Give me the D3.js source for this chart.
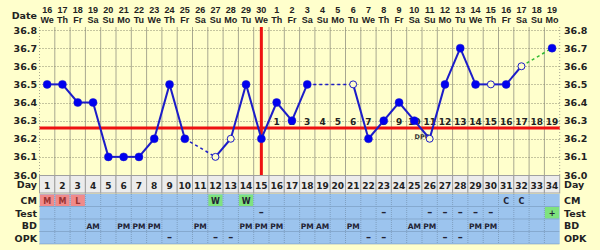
<!DOCTYPE html>
<html><head><meta charset="utf-8">
<script src="https://cdn.jsdelivr.net/npm/d3@7"></script>
<style>
html,body{margin:0;padding:0;background:#ffffcc;}
svg{display:block;}
</style></head><body>
<svg id="c" width="600" height="250"></svg>
<script>
const days = d3.range(1, 35);
const dates = [16,17,18,19,20,21,22,23,24,25,26,27,28,29,30,1,2,3,4,5,6,7,8,9,10,11,12,13,14,15,16,17,18,19];
const weekdays = ["We","Th","Fr","Sa","Su","Mo","Tu","We","Th","Fr","Sa","Su","Mo","Tu","We","Th","Fr","Sa","Su","Mo","Tu","We","Th","Fr","Sa","Su","Mo","Tu","We","Th","Fr","Sa","Su","Mo"];
const temps = [36.5,36.5,36.4,36.4,36.1,36.1,36.1,36.2,36.5,36.2,null,36.1,36.2,36.5,36.2,36.4,36.3,36.5,null,null,36.5,36.2,36.3,36.4,36.3,36.2,36.5,36.7,36.5,36.5,36.5,36.6,null,36.7];
const openDays = [12,13,21,26,30,32];
const greenGapEnd = 34;
const yTicks = [36.0,36.1,36.2,36.3,36.4,36.5,36.6,36.7,36.8];
const coverline = 36.26;
const ovulationDay = 15;
const dpoLabels = d3.range(1, 20).map(String);
const rowNames = ["CM","Test","BD","OPK"];
const cmRow = {1:"M",2:"M",3:"L",12:"W",14:"W",31:"C",32:"C"};
const cmFill = {1:"pink",2:"pink",3:"pink",12:"green",14:"green"};
const testRow = {15:"–",23:"–",26:"–",27:"–",28:"–",29:"–",30:"–",34:"+"};
const testFill = {34:"green"};
const bdRow = {4:"AM",6:"PM",7:"PM",8:"PM",11:"PM",14:"PM",15:"PM",16:"PM",18:"PM",19:"AM",21:"PM",25:"AM",26:"PM",29:"PM",30:"PM"};
const opkRow = {9:"–",12:"–",13:"–",22:"–",23:"–",27:"–",28:"–"};

const svg = d3.select("#c");
const L = 39.5, R = 559.7, T = 30, B = 175;
const x = d3.scaleLinear().domain([0.5, 34.5]).range([L, R]);
const cw = x(2) - x(1);
const y = d3.scaleLinear().domain([36.0, 36.8]).range([B, T]);
const side = "DejaVu Sans";
const small = "Liberation Sans";
const ink = "#222";

// header
svg.append("text").attr("x", 37).attr("y", 19).attr("text-anchor","end")
  .attr("font-family", side).attr("font-weight","bold").attr("font-size", 9.5).attr("fill", ink).text("Date");
svg.append("g").selectAll("text").data(days).join("text")
  .attr("x", d => x(d)).attr("y", 13).attr("text-anchor","middle")
  .attr("font-family", small).attr("font-weight","bold").attr("font-size", 9).attr("fill", ink)
  .text((d,i) => dates[i]);
svg.append("g").selectAll("text").data(days).join("text")
  .attr("x", d => x(d)).attr("y", 23).attr("text-anchor","middle")
  .attr("font-family", small).attr("font-weight","bold").attr("font-size", 9).attr("fill", ink)
  .text((d,i) => weekdays[i]);

// grid
const g = svg.append("g");
g.selectAll("line.v").data(d3.range(0, 35)).join("line")
  .attr("x1", d => x(d + 0.5)).attr("x2", d => x(d + 0.5))
  .attr("y1", 27).attr("y2", B)
  .attr("stroke", "#a8a890").attr("stroke-width", 1)
  .attr("stroke-dasharray", d => (d === 0 || d === 34) ? "1,2" : null);
g.selectAll("line.h").data(yTicks.slice(1)).join("line")
  .attr("x1", L).attr("x2", R).attr("y1", d => Math.round(y(d)) + 0.5).attr("y2", d => Math.round(y(d)) + 0.5)
  .attr("stroke", "#8a8a70").attr("stroke-width", 1).attr("stroke-dasharray", "1,2");

// y labels both sides
const axL = d3.axisLeft(y).tickValues(yTicks).tickFormat(d3.format(".1f")).tickSize(0).tickPadding(0);
const axR = d3.axisRight(y).tickValues(yTicks).tickFormat(d3.format(".1f")).tickSize(0).tickPadding(0);
[[axL, 37], [axR, 564]].forEach(([ax, px]) => {
  const a = svg.append("g").attr("transform", `translate(${px},0)`).call(ax);
  a.select(".domain").remove();
  a.selectAll("text").attr("font-family", side).attr("font-weight","bold").attr("font-size", 9.5).attr("fill", ink);
});

// coverline & ovulation
svg.append("line").attr("x1", L).attr("x2", R).attr("y1", y(coverline)).attr("y2", y(coverline))
  .attr("stroke", "#ee1111").attr("stroke-width", 3);
svg.append("line").attr("x1", x(ovulationDay)).attr("x2", x(ovulationDay)).attr("y1", 27).attr("y2", B)
  .attr("stroke", "#ee1111").attr("stroke-width", 3);

// DPO labels
svg.append("g").selectAll("text").data(dpoLabels).join("text")
  .attr("x", (d,i) => x(ovulationDay + 1 + i)).attr("y", 125).attr("text-anchor","middle")
  .attr("font-family", side).attr("font-weight","bold").attr("font-size", 9).attr("fill", ink).text(d => d);
svg.append("text").attr("x", x(25) + 8).attr("y", 139).attr("text-anchor","middle")
  .attr("font-family", side).attr("font-weight","bold").attr("font-size", 6.5).attr("fill", "#333").text("DPO");

// temperature lines
const pts = days.map((d,i) => ({day: d, t: temps[i]}));
const valid = pts.filter(p => p.t !== null);
for (let k = 0; k < valid.length - 1; k++) {
  const a = valid[k], b = valid[k+1];
  const gap = b.day - a.day > 1;
  const green = gap && b.day === greenGapEnd;
  svg.append("line")
    .attr("x1", x(a.day)).attr("y1", y(a.t)).attr("x2", x(b.day)).attr("y2", y(b.t))
    .attr("stroke", green ? "#33bb33" : "#1c1cc8")
    .attr("stroke-width", gap ? 1.5 : 2)
    .attr("stroke-dasharray", gap ? "3,3" : null);
}
svg.append("g").selectAll("circle").data(valid).join("circle")
  .attr("cx", d => x(d.day)).attr("cy", d => y(d.t)).attr("r", d => openDays.includes(d.day) ? 3.5 : 4)
  .attr("fill", d => openDays.includes(d.day) ? "#ffffcc" : "#0000ee")
  .attr("stroke", "#1c1cc8").attr("stroke-width", d => openDays.includes(d.day) ? 1 : 0.5);

// Day row
const dayTop = 175.5, dayH = 17.5;
svg.append("g").selectAll("rect").data(days).join("rect")
  .attr("x", d => x(d - 0.5)).attr("y", dayTop).attr("width", cw).attr("height", dayH)
  .attr("fill", "#ececec").attr("stroke", "#a0a0a0").attr("stroke-width", 1);
svg.append("g").selectAll("text").data(days).join("text")
  .attr("x", d => x(d)).attr("y", dayTop + 13).attr("text-anchor","middle")
  .attr("font-family", side).attr("font-weight","bold").attr("font-size", 9).attr("fill", ink).text(d => d);

// info rows
const rowTop = 194, rowH = 12.5;
const rows = [cmRow, testRow, bdRow, opkRow];
const fills = [cmFill, testFill, {}, {}];
const fillColor = {pink: "#f08a8a", green: "#7ee27e"};
svg.append("rect").attr("x", L).attr("y", rowTop).attr("width", R - L).attr("height", rowH * 4).attr("fill", "#9cc4ee");
rows.forEach((row, ri) => {
  const ry = rowTop + ri * rowH;
  Object.keys(fills[ri]).forEach(k => {
    svg.append("rect").attr("x", x(+k - 0.5) + 0.5).attr("y", ry + 0.5).attr("width", cw - 1).attr("height", rowH - 1)
      .attr("fill", fillColor[fills[ri][k]]);
  });
  svg.append("g").selectAll("text").data(Object.keys(row)).join("text")
    .attr("x", k => x(+k)).attr("y", ry + 9.5).attr("text-anchor","middle")
    .attr("font-family", side).attr("font-weight","bold")
    .attr("font-size", k => row[k] === "–" ? 10 : (row[k].length > 1 ? 7.5 : 8))
    .attr("fill", k => fills[ri][k] === "pink" ? "#993333" : "#223")
    .text(k => row[k]);
});
svg.append("g").selectAll("line").data(d3.range(1, 4)).join("line")
  .attr("x1", L).attr("x2", R).attr("y1", d => rowTop + d * rowH).attr("y2", d => rowTop + d * rowH)
  .attr("stroke", "#6f8fb0").attr("stroke-dasharray", "1,1");
svg.append("g").selectAll("line").data(d3.range(1, 34)).join("line")
  .attr("x1", d => x(d + 0.5)).attr("x2", d => x(d + 0.5)).attr("y1", rowTop).attr("y2", rowTop + rowH * 4)
  .attr("stroke", "#7f9fc0").attr("stroke-dasharray", "1,1");
svg.append("line").attr("x1", L).attr("x2", R).attr("y1", rowTop + rowH * 4).attr("y2", rowTop + rowH * 4)
  .attr("stroke", "#6f8fb0").attr("stroke-dasharray", "1,1");

// side labels
const labels = ["Day"].concat(rowNames);
const labelY = [dayTop + 12.5].concat(rowNames.map((n,i) => rowTop + i * rowH + 10));
labels.forEach((t, i) => {
  svg.append("text").attr("x", 37).attr("y", labelY[i]).attr("text-anchor","end")
    .attr("font-family", side).attr("font-weight","bold").attr("font-size", 9.5).attr("fill", ink).text(t);
  svg.append("text").attr("x", 564).attr("y", labelY[i]).attr("text-anchor","start")
    .attr("font-family", side).attr("font-weight","bold").attr("font-size", 9.5).attr("fill", ink).text(t);
});
</script>
</body></html>
